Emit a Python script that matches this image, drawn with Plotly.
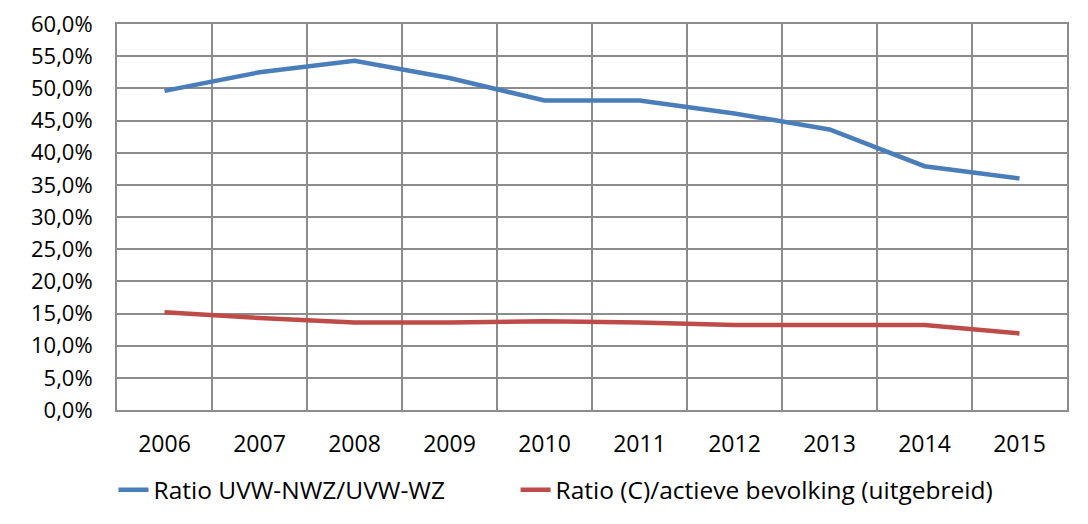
import plotly.graph_objects as go

years = ["2006", "2007", "2008", "2009", "2010", "2011", "2012", "2013", "2014", "2015"]
ratio_nwz_wz = [0.496, 0.525, 0.543, 0.516, 0.481, 0.481, 0.461, 0.436, 0.379, 0.360]
ratio_c_actief = [0.152, 0.143, 0.136, 0.136, 0.138, 0.136, 0.132, 0.132, 0.132, 0.119]

name_blue = "Ratio UVW-NWZ/UVW-WZ"
name_red = "Ratio (C)/actieve bevolking (uitgebreid)"

font_family = "'Open Sans', sans-serif"

fig = go.Figure()
fig.add_trace(go.Scatter(x=years, y=ratio_nwz_wz, mode="lines", name=name_blue,
                         line=dict(color="#4A7EBB", width=4.5), legend="legend"))
fig.add_trace(go.Scatter(x=years, y=ratio_c_actief, mode="lines", name=name_red,
                         line=dict(color="#BE4B48", width=4.5), legend="legend2"))

grid = "#8C8C8C"
legend_common = dict(orientation="h", xref="container", yref="container",
                     xanchor="left", y=0.066, yanchor="middle",
                     font=dict(size=24.5), bgcolor="rgba(0,0,0,0)")
# page body has an 8px margin, so the figure is 8px smaller and margins shifted
fig.update_layout(
    width=1080, height=516,
    margin=dict(l=109, r=21, t=16, b=114),
    paper_bgcolor="white", plot_bgcolor="white",
    separators=", ",
    font=dict(family=font_family, size=23, color="black"),
    showlegend=True,
    legend=dict(x=0.0977, **legend_common),
    legend2=dict(x=0.47, **legend_common),
    xaxis=dict(type="category", range=[-0.5, 9.5], tickson="boundaries", showgrid=True,
               gridcolor=grid, gridwidth=1.5, showline=True, linecolor=grid, linewidth=2,
               mirror=True, ticks="", ticklabelstandoff=12, fixedrange=True,
               automargin=False),
    yaxis=dict(range=[0, 0.6], dtick=0.05, tickformat=".1%", showgrid=True,
               gridcolor=grid, gridwidth=1.5, showline=True, linecolor=grid,
               linewidth=2, mirror=True, zeroline=False, ticks="",
               ticklabelstandoff=18, fixedrange=True, automargin=False,
               ticklabeloverflow="allow", tickfont=dict(size=22)),
)

fig.write_html("out.html")
